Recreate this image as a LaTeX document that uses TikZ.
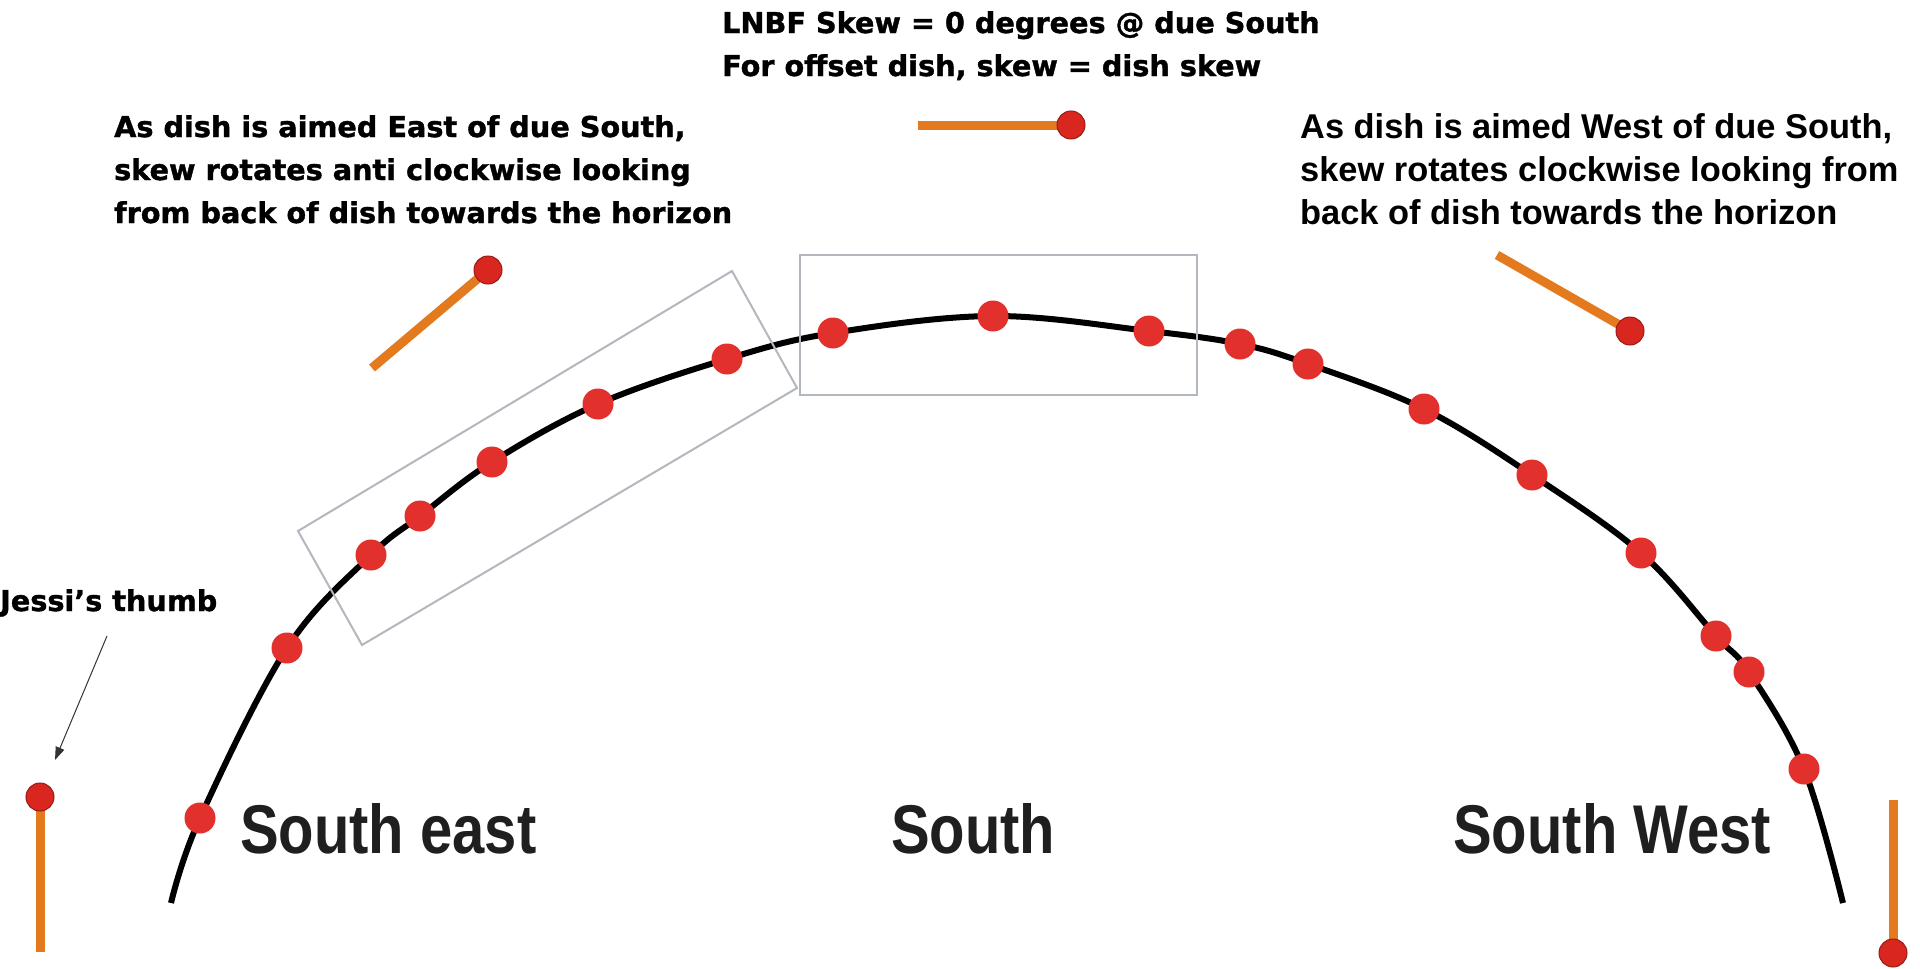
\documentclass[tikz,border=0pt]{standalone}
\usepackage{fontspec}
\setmainfont{DejaVu Sans}[BoldFeatures={FakeBold=1.3}]
\newfontfamily\helvfont{Liberation Sans}
\newfontfamily\southfont[FakeStretch=0.84]{Liberation Sans}
\usetikzlibrary{arrows.meta,backgrounds}

\definecolor{stickorange}{HTML}{E47A1E}
\definecolor{ballred}{HTML}{D9261F}
\definecolor{ballrim}{HTML}{9A1A16}
\definecolor{dotred}{HTML}{E2302C}
\definecolor{boxgray}{HTML}{B2B8BE}

\tikzset{
  arcdot/.style={circle,fill=dotred,inner sep=0pt,minimum size=31pt},
  ball/.style={circle,fill=ballred,draw=ballrim,line width=1pt,inner sep=0pt,minimum size=28pt},
  stick/.style={draw=stickorange,line width=9pt},
  arcline/.style={draw=black,line width=6pt},
  skybox/.style={draw=boxgray,line width=2pt},
  note/.style={font=\bfseries\fontsize{28.7}{43}\selectfont,align=left,anchor=base west,inner sep=0pt},
  westnote/.style={note,font=\helvfont\bfseries\fontsize{34.4}{43}\selectfont},
  dirlabel/.style={font=\southfont\bfseries\fontsize{69}{69}\selectfont,text=black!88,anchor=base west,inner sep=0pt},
  pointer/.style={draw=black!80,line width=1pt,-{Triangle[length=13pt,width=9pt]}}
}

\begin{document}
\begin{tikzpicture}[x=1pt,y=-1pt]
\useasboundingbox (0,0) rectangle (1920,969);

% red marks along the arc
\foreach \n/\x/\y in {p1/200/818,p2/287/648,p3/371/555,p4/420/516,p5/492/462,
    p6/598/404,p7/727/359,p8/833/333,p9/993/316,p10/1149/331,p11/1240/344,
    p12/1308/364,p13/1424/409,p14/1532/475,p15/1641/553,p16/1716/636,
    p17/1749/672,p18/1804/769}
  \node[arcdot] (\n) at (\x,\y) {};
\coordinate (arcL) at (171,903);
\coordinate (arcR) at (1843,903);

% frames
\draw[skybox] (800,255) rectangle (1197,395);
\draw[skybox] (298,531) -- (732,271) -- (797,388) -- (362,645) -- cycle;

% LNBF sticks
\node[ball] (thumbBall) at (40,797) {};
\coordinate (thumbEnd) at (40,952);
\node[ball] (topBall) at (1071,125) {};
\coordinate (topEnd) at (918,125);
\node[ball] (eastBall) at (488,270) {};
\coordinate (eastEnd) at (372,368);
\node[ball] (westBall) at (1630,331) {};
\coordinate (westEnd) at (1497,255);
\node[ball] (swBall) at (1893,953) {};
\coordinate (swEnd) at (1893,800);

\begin{scope}[on background layer]
  \fill[white] (0,0) rectangle (1920,969);
  \draw[arcline] plot[smooth,tension=0.6] coordinates {(arcL) (p1) (p2) (p3) (p4) (p5) (p6) (p7) (p8) (p9)
      (p10) (p11) (p12) (p13) (p14) (p15) (p16) (p17) (p18) (arcR)};
  \draw[stick] (thumbEnd) -- (thumbBall.center);
  \draw[stick] (topEnd) -- (topBall.center);
  \draw[stick] (eastEnd) -- (eastBall.center);
  \draw[stick] (westEnd) -- (westBall.center);
  \draw[stick] (swEnd) -- (swBall.center);
\end{scope}

% texts (base = last line)
\node[note] (topNote) at (722,76) {LNBF Skew = 0 degrees @ due South\\For offset dish, skew = dish skew};
\node[note] (eastNote) at (114,223) {As dish is aimed East of due South,\\skew rotates anti clockwise looking\\from back of dish towards the horizon};
\node[westnote] (westNote) at (1300,224) {As dish is aimed West of due South,\\skew rotates clockwise looking from\\back of dish towards the horizon};
\node[note] (thumbLbl) at (0,611) {Jessi’s thumb};

\node[dirlabel] (seLbl) at (240,853) {South east};
\node[dirlabel] (sLbl) at (891,853) {South};
\node[dirlabel] (swLbl) at (1453,853) {South West};

\coordinate (thumbTail) at (107,636);
\coordinate (thumbTip) at (55,760);
\draw[pointer] (thumbTail) -- (thumbTip);
\end{tikzpicture}
\end{document}
